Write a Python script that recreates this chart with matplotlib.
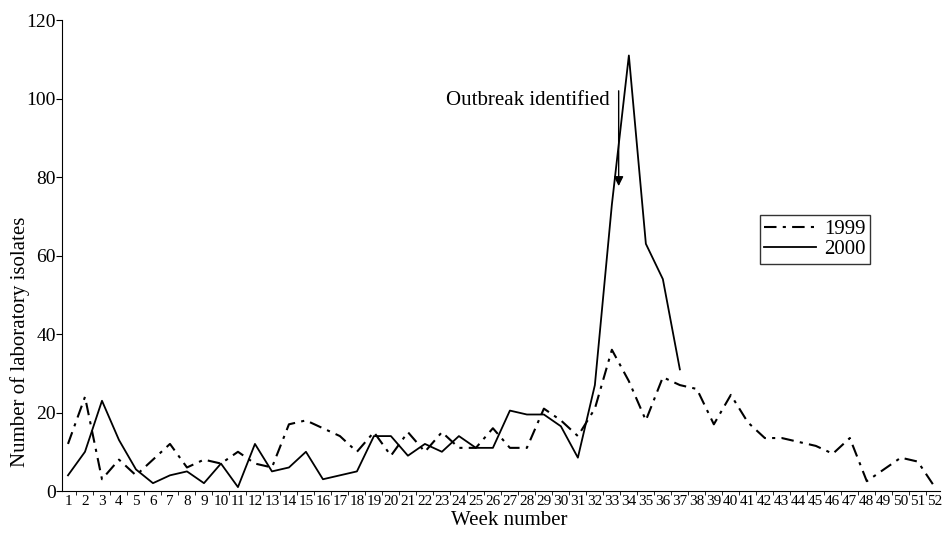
import numpy as np
import matplotlib.pyplot as plt

plt.rcParams['font.family'] = ['Liberation Serif', 'DejaVu Serif']

weeks = np.arange(1, 53)
cases_1999 = [12, 24, 3, 8, 4, 8, 12, 6, 8, 7, 10, 7, 6, 17, 18, 16, 14, 10, 15, 9,
              15, 10, 15, 11, 11, 16, 11, 11, 21, 18, 14, 21, 36, 28, 18, 29, 27, 26, 17, 24.5,
              17.5, 13.5, 13.5, 12.5, 11.5, 9.5, 13.5, 2.5, 5.5, 8.5, 7.5, 1]
weeks_2000 = np.arange(1, 38)
cases_2000 = [4, 10, 23, 13, 5.5, 2, 4, 5, 2, 7, 1, 12, 5, 6, 10, 3, 4, 5, 14, 14,
              9, 12, 10, 14, 11, 11, 20.5, 19.5, 19.5, 16.5, 8.5, 27, 73, 111, 63, 54, 31]

fig = plt.figure(figsize=(9.45, 5.4), dpi=100)
ax = fig.add_axes([0.0656, 0.0907, 0.929, 0.872])

ax.plot(weeks, cases_1999, color='black', lw=1.5, dashes=(6, 3, 1.5, 3), label='1999')
ax.plot(weeks_2000, cases_2000, color='black', lw=1.3, label='2000')

ax.set_xlim(0.647, 52.3)
ax.set_ylim(0, 120)
ax.spines['top'].set_visible(False)
ax.spines['right'].set_visible(False)

ax.set_yticks(np.arange(0, 121, 20))
ax.tick_params(axis='y', direction='out', length=4, labelsize=14, pad=0.5)
ax.set_xticks(weeks)
ax.set_xticklabels([str(w) for w in weeks])
ax.tick_params(axis='x', which='major', length=0, labelsize=11, pad=3)
ax.set_xticks(weeks[:-1] + 0.5, minor=True)
ax.tick_params(axis='x', which='minor', direction='out', length=3)

ax.set_xlabel('Week number', fontsize=15)
ax.xaxis.set_label_coords(0.51, -0.043)
ax.set_ylabel('Number of laboratory isolates', fontsize=15)
ax.yaxis.set_label_coords(-0.036, 0.316)

ax.text(32.9, 99.6, 'Outbreak identified', ha='right', va='center', fontsize=15)
ax.annotate('', xy=(33.4, 77), xytext=(33.4, 102.7),
            arrowprops=dict(arrowstyle='-|>', color='black', lw=1.0, mutation_scale=14))

leg = ax.legend(loc='upper left', bbox_to_anchor=(0.795, 0.586), fontsize=15,
                frameon=True, fancybox=False, edgecolor='black', handlelength=2.5,
                borderpad=0.2, labelspacing=0.05, handletextpad=0.4, borderaxespad=0)
leg.get_frame().set_linewidth(1.0)

plt.savefig('out.png', dpi=100)
